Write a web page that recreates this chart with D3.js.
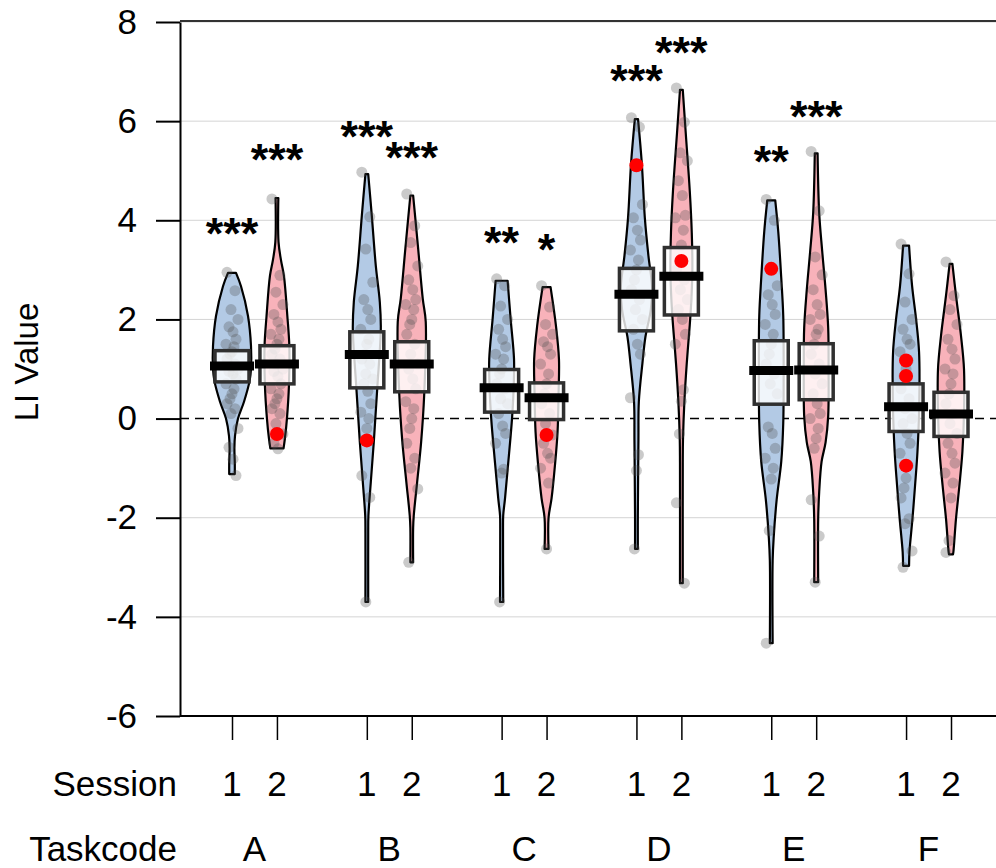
<!DOCTYPE html>
<html lang="en">
<head>
<meta charset="utf-8">
<title>LI Value by Taskcode and Session</title>
<script src="https://d3js.org/d3.v7.min.js"></script>
<style>
  body { margin: 0; background: #fff; }
  svg text { font-family: "Liberation Sans", Arial, sans-serif; fill: #000; }
</style>
</head>
<body>
<div id="chart"></div>
<script>
// ---- data ----
var taskcodes = ["A", "B", "C", "D", "E", "F"];
var sessions = ["1", "2"];
var beanPos = [1, 2, 4, 5, 7, 8, 10, 11, 13, 14, 16, 17]; // A1 A2 B1 B2 ...
var yTicks = [-6, -4, -2, 0, 2, 4, 6, 8];

// mean bar and inference box per bean
var means = [1.06, 1.10, 1.29, 1.10, 0.62, 0.42, 2.51, 2.87, 0.97, 0.98, 0.24, 0.09];
var boxLo = [0.74, 0.70, 0.62, 0.54, 0.13, -0.02, 1.77, 2.09, 0.29, 0.38, -0.26, -0.36];
var boxHi = [1.37, 1.47, 1.75, 1.55, 0.99, 0.72, 3.03, 3.45, 1.57, 1.51, 0.70, 0.53];

// significance stars and the value they sit at
var stars = ["***", "***", "***", "***", "**", "*", "***", "***", "**", "***", "", ""];
var starAt = [3.98, 5.48, 5.95, 5.52, 3.80, 3.66, 7.08, 7.64, 5.44, 6.34, 0, 0];

// highlighted (red) observations: bean index, value
var redBean = [1, 2, 5, 6, 7, 8, 10, 10, 10];
var redValue = [-0.31, -0.44, -0.33, 5.11, 3.18, 3.02, 1.17, 0.86, -0.95];

// bean density outline: [value, relative width]
var density = [
  [[2.94,.2],[2.67,.45],[2.07,.8],[1.46,.95],[1.0,.95],[0.76,.88],[0.34,.6],[0,.3],[-0.35,.15],[-0.6,.12],[-0.9,.14],[-1.12,.14]],
  [[4.45,.07],[3.56,.08],[3.2,.2],[2.88,.35],[2.07,.52],[1.46,.62],[0.66,.6],[0,.5],[-0.4,.4],[-0.6,.33]],
  [[4.93,.07],[4.09,.25],[3.08,.45],[2.35,.65],[1.81,.7],[0.6,.52],[-0.47,.35],[-1.28,.2],[-1.96,.08],[-2.3,.07],[-3.7,.07]],
  [[4.5,.07],[3.43,.32],[2.42,.55],[1.95,.7],[0.46,.62],[-0.47,.47],[-1.28,.27],[-1.96,.1],[-2.2,.07],[-2.9,.07]],
  [[2.78,.3],[2.01,.45],[1.2,.62],[0.6,.6],[0,.52],[-0.94,.32],[-1.61,.17],[-1.95,.08],[-2.2,.07],[-3.7,.08]],
  [[2.65,.2],[1.87,.47],[1.2,.62],[0.5,.6],[-0.27,.55],[-0.94,.42],[-1.61,.25],[-2.0,.1],[-2.63,.1]],
  [[6.04,.08],[5.14,.27],[4.05,.42],[3.28,.6],[2.66,.78],[2.2,.72],[1.65,.45],[1.12,.3],[0.34,.12],[-0.43,.1],[-1.96,.07],[-2.63,.07]],
  [[6.63,.07],[5.75,.22],[4.59,.42],[3.75,.52],[3.0,.55],[2.4,.5],[1.89,.42],[1.12,.27],[0.34,.15],[-0.43,.08],[-0.89,.07],[-3.32,.07]],
  [[4.4,.2],[3.77,.35],[2.84,.5],[2.07,.6],[1.0,.62],[-0.09,.6],[-0.87,.5],[-1.64,.27],[-2.41,.12],[-2.87,.07],[-4.53,.07]],
  [[5.35,.07],[4.15,.15],[3.38,.3],[2.6,.47],[1.83,.6],[1.0,.62],[0.05,.6],[-0.48,.47],[-0.87,.27],[-1.48,.15],[-2.02,.1],[-3.3,.1]],
  [[3.49,.15],[2.68,.3],[2.01,.5],[1.34,.65],[0.3,.66],[-0.67,.57],[-1.35,.45],[-2.02,.32],[-2.69,.17],[-2.97,.15]],
  [[3.12,.07],[2.48,.25],[1.67,.5],[1.0,.65],[0.1,.65],[-0.67,.57],[-1.35,.42],[-2.02,.25],[-2.69,.12],[-2.74,.1]]
];

// raw observations per bean (grey dots)
var obs = [
  [2.95,2.58,2.2,2.0,1.85,1.75,1.6,1.5,1.45,1.35,1.3,1.2,1.1,1.05,1.0,0.95,0.9,0.8,0.7,0.6,0.5,0.4,0.3,0.2,0.1,-0.2,-0.58,-0.82,-1.15],
  [4.43,2.89,2.55,2.3,2.1,1.95,1.8,1.7,1.6,1.5,1.4,1.3,1.2,1.1,1.0,0.95,0.85,0.7,0.6,0.5,0.4,0.3,0.2,0.1,-0.1,-0.31,-0.5,-0.61],
  [4.97,4.07,3.42,2.75,2.4,2.2,2.0,1.8,1.6,1.5,1.3,1.2,1.1,0.9,0.8,0.7,0.55,0.3,0.13,0.0,-0.2,-0.44,-1.15,-1.59,-3.7],
  [4.53,3.89,3.55,3.08,2.8,2.6,2.4,2.3,2.2,2.0,1.9,1.7,1.5,1.3,1.1,1.0,0.8,0.6,0.34,0.2,0.0,-0.2,-0.5,-0.8,-1.0,-1.42,-2.9],
  [2.82,2.68,2.27,2.0,1.8,1.6,1.45,1.3,1.2,1.0,0.9,0.7,0.6,0.4,0.3,0.1,-0.15,-0.3,-0.5,-1.02,-1.1,-3.7],
  [2.68,2.25,1.9,1.7,1.55,1.45,1.3,1.1,0.9,0.7,0.5,0.3,0.1,-0.1,-0.33,-0.5,-0.7,-0.8,-1.0,-1.3,-2.63],
  [6.07,5.88,5.11,4.32,4.05,3.8,3.6,3.4,3.2,3.0,2.8,2.6,2.4,2.2,2.0,1.8,1.5,1.3,0.42,-0.73,-1.05,-2.63],
  [6.67,5.98,5.36,5.2,4.8,4.5,4.1,4.05,3.8,3.5,3.18,3.0,2.8,2.6,2.4,2.2,2.0,1.7,1.5,0.58,0.35,-0.31,-1.7,-3.32],
  [4.42,4.0,3.02,2.68,2.5,2.3,2.1,1.9,1.7,1.5,1.3,1.1,0.9,0.7,0.5,-0.17,-0.3,-0.6,-0.8,-1.0,-1.22,-2.26,-4.53],
  [5.39,4.19,3.26,2.9,2.6,2.3,2.1,2.0,1.8,1.7,1.5,1.3,1.1,0.9,0.7,0.5,0.3,0.1,0.0,-0.2,-0.4,-0.6,-1.64,-2.37,-3.3],
  [3.52,2.92,2.35,2.0,1.8,1.6,1.5,1.35,1.17,1.0,0.86,0.6,0.4,0.2,0.0,-0.1,-0.3,-0.5,-0.7,-0.95,-1.2,-1.4,-1.6,-2.02,-2.12,-2.67,-3.0],
  [3.16,2.48,2.2,1.9,1.6,1.4,1.2,1.0,0.9,0.7,0.5,0.3,0.1,-0.1,-0.3,-0.5,-0.7,-0.9,-1.1,-1.3,-1.6,-2.46,-2.7]
];

var beanFill = ["#b3cae5", "#f8b2ba"];

// ---- layout ----
var W = 996, H = 868;
var pLeft = 180, pRight = 996, pTop = 22, pBottom = 716;

var svg = d3.select("#chart").append("svg")
  .attr("width", W).attr("height", H);

var y = d3.scaleLinear().domain([-6, 8]).range([pBottom, pTop]);
var x = d3.scaleLinear().domain([1, 17]).range([232, 951]);
var w = d3.scaleLinear().domain([0, 1]).range([0, 20]); // bean half width

// grid
svg.append("g").selectAll("line")
  .data(yTicks.filter(function(d) { return d !== 0; }))
  .enter().append("line")
    .attr("x1", pLeft).attr("x2", pRight)
    .attr("y1", function(d) { return y(d); }).attr("y2", function(d) { return y(d); })
    .attr("stroke", "#d4d4d4").attr("stroke-width", 1);

svg.append("line")
  .attr("x1", pLeft).attr("x2", pRight).attr("y1", y(0)).attr("y2", y(0))
  .attr("stroke", "#000").attr("stroke-width", 1.6).attr("stroke-dasharray", "9,6");

// top frame line
svg.append("line")
  .attr("x1", pLeft).attr("x2", pRight).attr("y1", pTop - 1).attr("y2", pTop - 1)
  .attr("stroke", "#333").attr("stroke-width", 2);

// beans
var area = d3.area()
  .y(function(d) { return y(d[0]); })
  .curve(d3.curveCatmullRom.alpha(0.5));

var beans = svg.append("g");
density.forEach(function(prof, i) {
  var cx = x(beanPos[i]);
  area.x0(function(d) { return cx - w(d[1]); })
      .x1(function(d) { return cx + w(d[1]); });
  beans.append("path")
    .attr("d", area(prof))
    .attr("fill", beanFill[i % 2])
    .attr("stroke", "#000").attr("stroke-width", 2.2)
    .attr("stroke-linejoin", "round");
});

// grey points (fixed jitter pattern)
var jit = [-5, 3, -1, 6, -3, 1, 4, -6, 2, 0, -2];
var pts = svg.append("g");
obs.forEach(function(vals, i) {
  var cx = x(beanPos[i]);
  pts.selectAll(null).data(vals).enter().append("circle")
    .attr("cx", function(d, k) { return cx + jit[k % jit.length]; })
    .attr("cy", function(d) { return y(d); })
    .attr("r", 5.5)
    .attr("fill", "rgba(80,80,80,0.3)");
});

// inference boxes and means
var boxes = svg.append("g");
beanPos.forEach(function(p, i) {
  var cx = x(p);
  boxes.append("rect")
    .attr("x", cx - 17).attr("width", 34)
    .attr("y", y(boxHi[i])).attr("height", y(boxLo[i]) - y(boxHi[i]))
    .attr("fill", "rgba(255,255,255,0.8)")
    .attr("stroke", "#303030").attr("stroke-width", 3.5);
});
beanPos.forEach(function(p, i) {
  var cx = x(p);
  boxes.append("line")
    .attr("x1", cx - 22).attr("x2", cx + 22)
    .attr("y1", y(means[i])).attr("y2", y(means[i]))
    .attr("stroke", "#000").attr("stroke-width", 9);
});

// red points
svg.append("g").selectAll("circle")
  .data(redValue).enter().append("circle")
    .attr("cx", function(d, k) { return x(beanPos[redBean[k]]); })
    .attr("cy", function(d) { return y(d); })
    .attr("r", 7)
    .attr("fill", "#ff0000");

// stars
svg.append("g").selectAll("text")
  .data(stars).enter().append("text")
    .attr("x", function(d, i) { return x(beanPos[i]); })
    .attr("y", function(d, i) { return y(starAt[i]); })
    .attr("dy", "0.62em")
    .attr("text-anchor", "middle")
    .style("font-size", "45px").style("font-weight", "bold")
    .text(function(d) { return d; });

// y axis
var yAxis = svg.append("g")
  .attr("transform", "translate(" + pLeft + ",0)")
  .call(d3.axisLeft(y).tickValues(yTicks).tickSize(24).tickSizeOuter(0).tickPadding(19)
    .tickFormat(function(d) { return String(d); }));
yAxis.select(".domain").attr("stroke", "#000").attr("stroke-width", 2);
yAxis.selectAll(".tick line").attr("stroke", "#000").attr("stroke-width", 2);
yAxis.selectAll(".tick text")
  .style("font-size", "35px").style("font-family", "'Liberation Sans', Arial, sans-serif");

svg.append("text")
  .attr("transform", "translate(26," + 362 + ") rotate(-90)")
  .attr("text-anchor", "middle").attr("dy", "0.35em")
  .style("font-size", "33px")
  .text("LI Value");

// x axis
svg.append("line")
  .attr("x1", pLeft).attr("x2", pRight).attr("y1", pBottom).attr("y2", pBottom)
  .attr("stroke", "#000").attr("stroke-width", 2);
var xAxis = svg.append("g")
  .attr("transform", "translate(0," + pBottom + ")")
  .call(d3.axisBottom(x).tickValues(beanPos).tickFormat("").tickSize(24).tickSizeOuter(0));
xAxis.select(".domain").remove();
xAxis.selectAll(".tick line").attr("stroke", "#000").attr("stroke-width", 1.5);

svg.append("g").selectAll("text")
  .data(beanPos).enter().append("text")
    .attr("x", function(d) { return x(d); })
    .attr("y", 784).attr("dy", "0.35em")
    .attr("text-anchor", "middle")
    .style("font-size", "35px")
    .text(function(d, i) { return sessions[i % 2]; });

svg.append("g").selectAll("text")
  .data(taskcodes).enter().append("text")
    .attr("x", function(d, i) { return (x(beanPos[2 * i]) + x(beanPos[2 * i + 1])) / 2; })
    .attr("y", 849).attr("dy", "0.35em")
    .attr("text-anchor", "middle")
    .style("font-size", "35px")
    .text(function(d) { return d; });

svg.append("text").attr("x", 177).attr("y", 784).attr("dy", "0.35em")
  .attr("text-anchor", "end").style("font-size", "35px").text("Session");
svg.append("text").attr("x", 177).attr("y", 849).attr("dy", "0.35em")
  .attr("text-anchor", "end").style("font-size", "35px").text("Taskcode");
</script>
</body>
</html>
